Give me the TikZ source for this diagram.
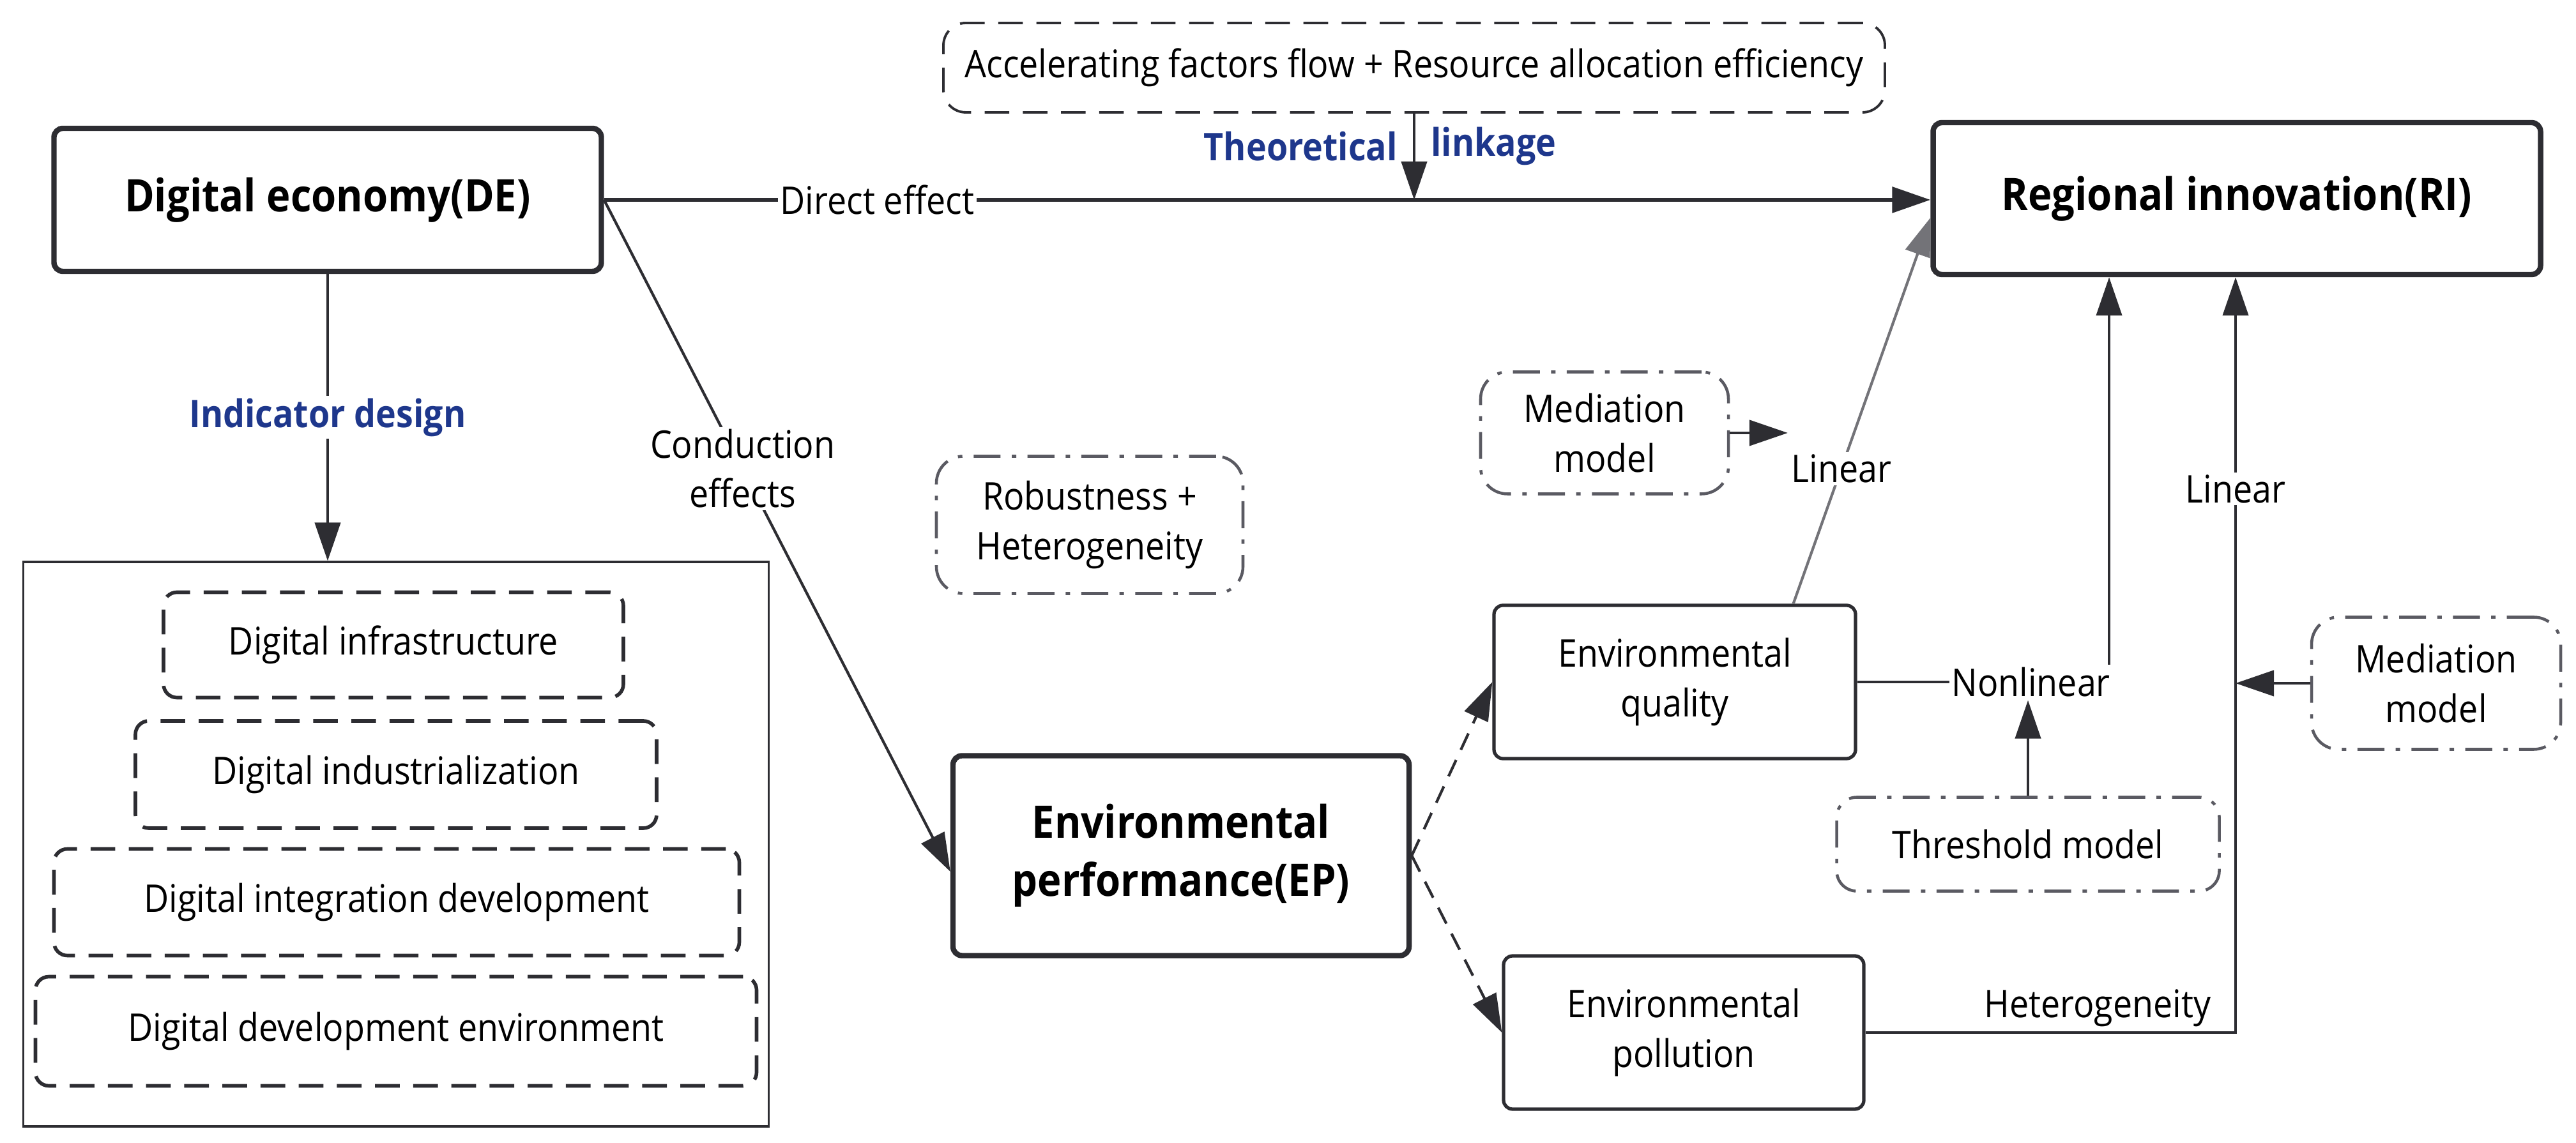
\documentclass[tikz,border=0pt]{standalone}
\usepackage{fontspec}
\setmainfont{Open Sans}[FakeStretch=0.9]
\usetikzlibrary{arrows.meta,positioning}
\definecolor{linegray}{RGB}{45,45,50}
\definecolor{dotgray}{RGB}{90,90,98}
\definecolor{midgray}{RGB}{115,115,120}
\definecolor{darkblue}{RGB}{30,55,140}
\tikzset{
    mainbox/.style={draw=linegray,line width=2.4pt,rounded corners=4pt,inner sep=0pt,
        align=center,font=\fontsize{20}{26}\selectfont\bfseries},
    subbox/.style={draw=linegray,line width=1.5pt,rounded corners=4pt,inner sep=0pt,
        align=center,font=\fontsize{17}{22}\selectfont},
    dashbox/.style={draw=linegray,line width=1.6pt,dash pattern=on 11pt off 6pt,
        rounded corners=6pt,inner sep=0pt,align=center,font=\fontsize{17}{22}\selectfont},
    dotbox/.style={draw=dotgray,line width=1.3pt,dash pattern=on 12pt off 5pt on 2pt off 5pt,
        rounded corners=12pt,inner sep=0pt,align=center,font=\fontsize{17}{22}\selectfont},
    lab/.style={fill=white,inner sep=1pt,align=center,font=\fontsize{17}{22}\selectfont},
    bluelab/.style={text=darkblue,inner sep=1pt,font=\fontsize{17}{22}\selectfont\bfseries},
    arr/.style={draw=linegray,line width=1.2pt,-{Triangle[length=6mm,width=4mm]}}
}
\begin{document}
\begin{tikzpicture}
  \useasboundingbox (0,0) rectangle (40.33,17.90);
  % Main boxes
  \node[mainbox,minimum width=8.57cm,minimum height=2.24cm] (DE) at (5.13,14.77)
        {Digital economy(DE)};
  \node[mainbox,minimum width=9.51cm,minimum height=2.38cm] (RI) at (35.02,14.79)
        {Regional innovation(RI)};
  \node[mainbox,minimum width=7.14cm,minimum height=3.13cm] (EP) at (18.49,4.50)
        {Environmental\\performance(EP)};
  \node[subbox,minimum width=5.66cm,minimum height=2.40cm] (EQ) at (26.22,7.22)
        {Environmental\\quality};
  \node[subbox,minimum width=5.64cm,minimum height=2.40cm] (EPol) at (26.36,1.73)
        {Environmental\\pollution};
  % Mechanism box
  \node[dashbox,rounded corners=10pt,line width=1.1pt,minimum width=14.74cm,minimum height=1.40cm]
        (accel) at (22.14,16.84)
        {Accelerating factors flow + Resource allocation efficiency};
  % Indicator system
  \node[draw=linegray,line width=0.9pt,minimum width=11.67cm,minimum height=8.84cm] (ind) at (6.20,4.68) {};
  \node[dashbox,minimum width=7.20cm,minimum height=1.65cm] (infra) at (6.16,7.80) {Digital infrastructure};
  \node[dashbox,minimum width=8.16cm,minimum height=1.68cm] (indus) at (6.20,5.77) {Digital industrialization};
  \node[dashbox,minimum width=10.73cm,minimum height=1.67cm] (integ) at (6.21,3.77) {Digital integration development};
  \node[dashbox,minimum width=11.29cm,minimum height=1.71cm] (devenv) at (6.20,1.75) {Digital development environment};
  % Model boxes
  \node[dotbox,minimum width=4.80cm,minimum height=2.15cm] (robust) at (17.06,9.68) {Robustness +\\Heterogeneity};
  \node[dotbox,minimum width=3.88cm,minimum height=1.91cm] (medA) at (25.12,11.12) {Mediation\\model};
  \node[dotbox,minimum width=3.90cm,minimum height=2.07cm] (medB) at (38.14,7.20) {Mediation\\model};
  \node[dotbox,rounded corners=9pt,minimum width=5.99cm,minimum height=1.47cm] (thr) at (31.75,4.68) {Threshold model};
  % Direct effect
  \draw[arr,line width=1.7pt] (DE.east) -- node[lab,pos=0.206] {Direct effect} (DE.east -| RI.west);
  % Theoretical linkage
  \coordinate (tl) at (accel.south |- DE.east);
  \draw[arr] (accel.south) -- coordinate[pos=0.38] (tlm) (tl);
  \node[bluelab,left=0.22cm of tlm] (theo) {Theoretical};
  \node[bluelab,right=0.22cm of tlm] (link) {linkage};
  % Indicator design
  \draw[arr] (DE.south) -- node[lab,text=darkblue,font=\fontsize{17}{22}\selectfont\bfseries]
        (indlab) {Indicator design} (DE.south |- ind.north);
  % Conduction effects
  \draw[arr] (DE.east) -- node[lab,pos=0.4] (cond) {Conduction\\effects} ([yshift=-2.5mm]EP.west);
  \draw[arr,dash pattern=on 8pt off 5pt] (EP.east) -- (EQ.west);
  \draw[arr,dash pattern=on 8pt off 5pt] (EP.east) -- (EPol.west);
  % Quality to innovation
  \draw[arr,draw=midgray] ([xshift=-1cm]EQ.north east) -- node[lab,pos=0.35] (linA) {Linear}
        ([yshift=-3mm]RI.west);
  \draw[arr] (medA.east) -- (medA.east -| linA.west);
  \coordinate (nlc) at (33.02,7.22);
  \draw[arr] (EQ.east) -- node[lab,pos=0.69] (nl) {Nonlinear} (nlc) -- (nlc |- RI.south);
  \draw[arr] (thr.north) -- (thr.north |- nl.south);
  % Pollution to innovation
  \coordinate (hc) at (35.00,1.73);
  \draw[arr] (EPol.east) -- node[pos=0.627,above,inner sep=2pt,font=\fontsize{17}{22}\selectfont]
        (het) {Heterogeneity} (hc)
        -- node[lab,pos=0.72] (linB) {Linear} (hc |- RI.south);
  \draw[arr] (medB.west) -- (medB.west -| hc);
\end{tikzpicture}
\end{document}
